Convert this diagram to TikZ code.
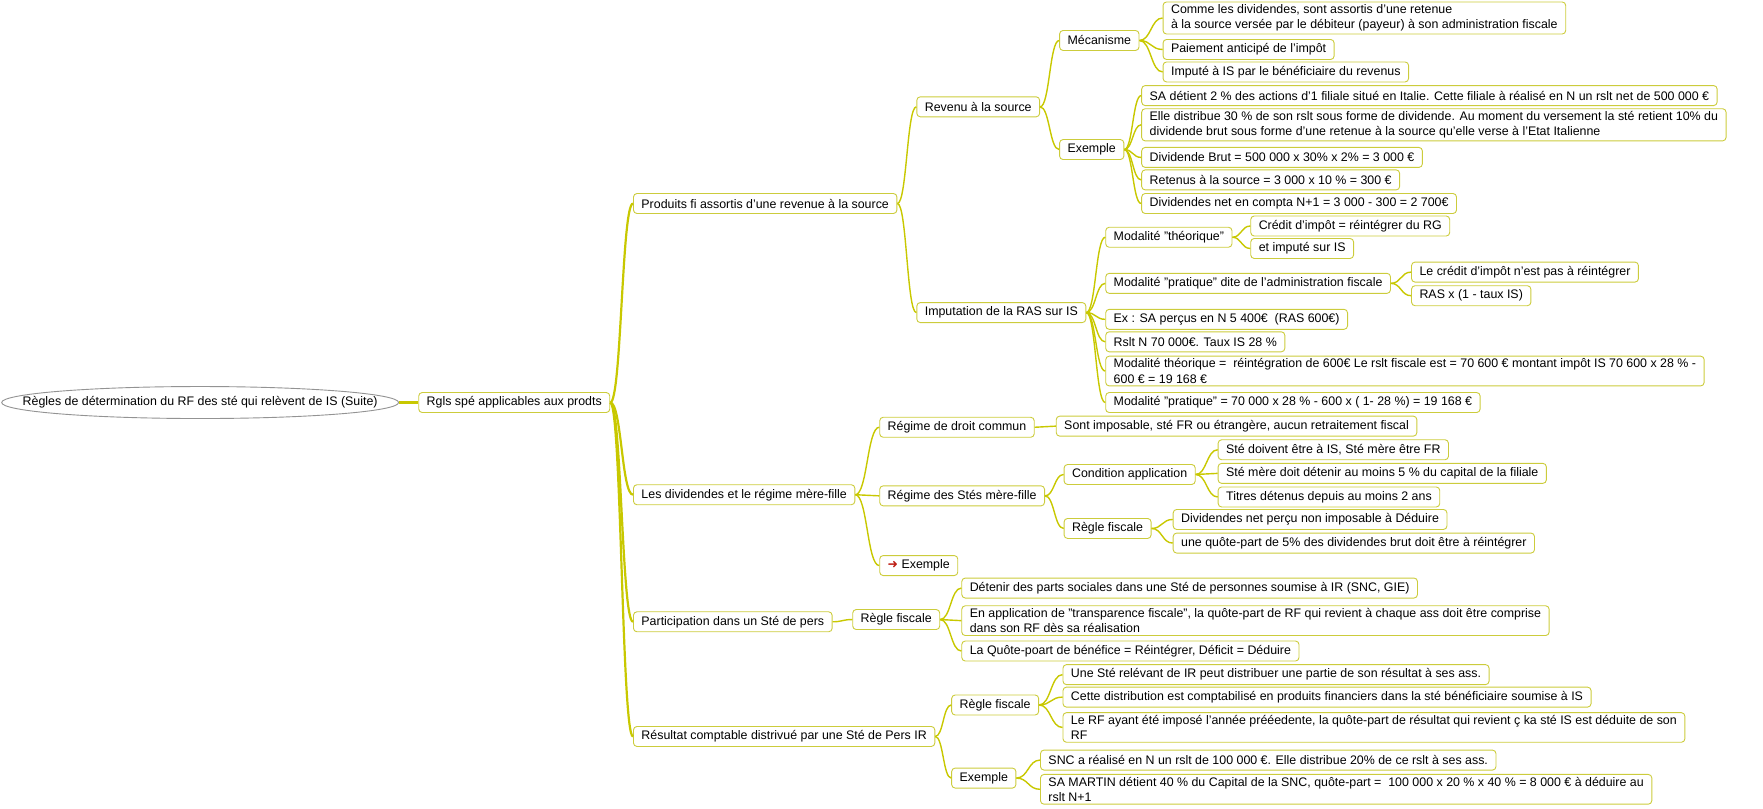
\documentclass[tikz,border=0pt]{standalone}
\usepackage{fontspec}
\setmainfont{Liberation Sans}
\newfontfamily\arrowfont{DejaVu Sans}
\usetikzlibrary{calc,shapes.geometric}
\definecolor{branchcol}{RGB}{200,200,0}
\definecolor{boxcol}{RGB}{204,204,60}
\definecolor{arrowred}{RGB}{190,30,20}

\begin{document}
\begin{tikzpicture}[x=1.1244pt,y=-1.1244pt,
	topic/.style={draw=boxcol,line width=0.9pt,fill=white,rounded corners=3.5pt,anchor=west,
		font=\fontsize{12.4}{15.5}\selectfont,inner xsep=8pt,inner ysep=2.5pt,
		minimum height=20pt,align=left},
	rootshape/.style={draw=gray!85,line width=0.9pt,fill=white,ellipse,inner sep=0pt,
		minimum width=397pt,minimum height=32pt},
	link/.style={draw=branchcol,line width=1.4pt},
	trunk/.style={draw=branchcol,line width=2.2pt}]
	\useasboundingbox (0,0) rectangle (1568,719);

	%root
	\node[rootshape] (root) at (178,358) {};
	\node[font=\fontsize{12.4}{15.5}\selectfont] (roottext) at (root.center) {Règles de détermination du RF des sté qui relèvent de IS (Suite)};
	\node[topic] (rgls) at (372,358) {Rgls spé applicables aux prodts};

	%main branches
	\node[topic] (prod)   at (563,181) {Produits fi assortis d'une revenue à la source};
	\node[topic] (divid)  at (563,440) {Les dividendes et le régime mère-fille};
	\node[topic] (partic) at (563,553) {Participation dans un Sté de pers};
	\node[topic] (resul)  at (563,655) {Résultat comptable distrivué par une Sté de Pers IR};

	%produits fi
	\node[topic] (revenu) at (815,95)  {Revenu à la source};
	\node[topic] (imput)  at (815,278) {Imputation de la RAS sur IS};
	\node[topic] (meca)   at (942,36)  {Mécanisme};
	\node[topic] (exrev)  at (942,133) {Exemple};
	\node[topic] (meca1)  at (1034,16) {Comme les dividendes, sont assortis d'une retenue\\à la source versée par le débiteur (payeur) à son administration fiscale};
	\node[topic] (meca2)  at (1034,44) {Paiement anticipé de l'impôt};
	\node[topic] (meca3)  at (1034,64) {Imputé à IS par le bénéficiaire du revenus};
	\node[topic] (exrev1) at (1015,85)  {SA détient 2 \% des actions d'1 filiale situé en Italie. Cette filiale à réalisé en N un rslt net de 500 000 €};
	\node[topic] (exrev2) at (1015,111) {Elle distribue 30 \% de son rslt sous forme de dividende. Au moment du versement la sté retient 10\% du\\dividende brut sous forme d'une retenue à la source qu'elle verse à l'Etat Italienne};
	\node[topic] (exrev3) at (1015,140) {Dividende Brut = 500 000 x 30\% x 2\% = 3 000 €};
	\node[topic] (exrev4) at (1015,160) {Retenus à la source = 3 000 x 10 \% = 300 €};
	\node[topic] (exrev5) at (1015,181) {Dividendes net en compta N+1 = 3 000 - 300 = 2 700€};
	\node[topic] (mtheo)  at (983,211) {Modalité "théorique"};
	\node[topic] (mprat)  at (983,252) {Modalité "pratique" dite de l'administration fiscale};
	\node[topic] (imp3)   at (983,284) {Ex : SA perçus en N 5 400€ \ (RAS 600€)};
	\node[topic] (imp4)   at (983,304) {Rslt N 70 000€. Taux IS 28 \%};
	\node[topic] (imp5)   at (983,330) {Modalité théorique = \ réintégration de 600€ Le rslt fiscale est = 70 600 € montant impôt IS 70 600 x 28 \% -\\600 € = 19 168 €};
	\node[topic] (imp6)   at (983,358) {Modalité "pratique" = 70 000 x 28 \% - 600 x ( 1- 28 \%) = 19 168 €};
	\node[topic] (mtheo1) at (1112,201) {Crédit d'impôt = réintégrer du RG};
	\node[topic] (mtheo2) at (1112,221) {et imputé sur IS};
	\node[topic] (mprat1) at (1255,242) {Le crédit d'impôt n'est pas à réintégrer};
	\node[topic] (mprat2) at (1255,263) {RAS x (1 - taux IS)};

	%dividendes
	\node[topic] (droit)  at (782,380) {Régime de droit commun};
	\node[topic] (meref)  at (782,441) {Régime des Stés mère-fille};
	\node[topic] (exdiv)  at (782,503) {{\arrowfont\color{arrowred}\bfseries ➜}\ Exemple};
	\node[topic] (droit1) at (939,379) {Sont imposable, sté FR ou étrangère, aucun retraitement fiscal};
	\node[topic] (cond)   at (946,422) {Condition application};
	\node[topic] (regle)  at (946,470) {Règle fiscale};
	\node[topic] (cond1)  at (1083,400) {Sté doivent être à IS, Sté mère être FR};
	\node[topic] (cond2)  at (1083,421) {Sté mère doit détenir au moins 5 \% du capital de la filiale};
	\node[topic] (cond3)  at (1083,442) {Titres détenus depuis au moins 2 ans};
	\node[topic] (regle1) at (1043,462) {Dividendes net perçu non imposable à Déduire};
	\node[topic] (regle2) at (1043,483) {une quôte-part de 5\% des dividendes brut doit être à réintégrer};

	%participation
	\node[topic] (pregle)  at (758,551) {Règle fiscale};
	\node[topic] (pregle1) at (855,523) {Détenir des parts sociales dans une Sté de personnes soumise à IR (SNC, GIE)};
	\node[topic] (pregle2) at (855,552) {En application de "transparence fiscale", la quôte-part de RF qui revient à chaque ass doit être comprise\\dans son RF dès sa réalisation};
	\node[topic] (pregle3) at (855,579) {La Quôte-poart de bénéfice = Réintégrer, Déficit = Déduire};

	%resultat comptable
	\node[topic] (rregle)  at (846,627) {Règle fiscale};
	\node[topic] (rex)     at (846,692) {Exemple};
	\node[topic] (rregle1) at (945,600) {Une Sté relévant de IR peut distribuer une partie de son résultat à ses ass.};
	\node[topic] (rregle2) at (945,620) {Cette distribution est comptabilisé en produits financiers dans la sté bénéficiaire soumise à IS};
	\node[topic] (rregle3) at (945,647) {Le RF ayant été imposé l'année prééedente, la quôte-part de résultat qui revient ç ka sté IS est déduite de son\\RF};
	\node[topic] (rex1)    at (925,676) {SNC a réalisé en N un rslt de 100 000 €. Elle distribue 20\% de ce rslt à ses ass.};
	\node[topic] (rex2)    at (925,702) {SA MARTIN détient 40 \% du Capital de la SNC, quôte-part = \ 100 000 x 20 \% x 40 \% = 8 000 € à déduire au\\rslt N+1};

	%connectors
	\foreach \a/\b in {root/rgls,rgls/prod,rgls/divid,rgls/partic,rgls/resul}
		\draw[trunk] let \p1=(\a.east), \p2=(\b.west) in
			(\p1) .. controls (\x1/2+\x2/2,\y1) and (\x1/2+\x2/2,\y2) .. (\p2);
	\foreach \a/\b in {prod/revenu,prod/imput,revenu/meca,revenu/exrev,
			meca/meca1,meca/meca2,meca/meca3,exrev/exrev1,exrev/exrev2,exrev/exrev3,exrev/exrev4,exrev/exrev5,
			imput/mtheo,imput/mprat,imput/imp3,imput/imp4,imput/imp5,imput/imp6,
			mtheo/mtheo1,mtheo/mtheo2,mprat/mprat1,mprat/mprat2,
			divid/droit,divid/meref,divid/exdiv,droit/droit1,meref/cond,meref/regle,
			cond/cond1,cond/cond2,cond/cond3,regle/regle1,regle/regle2,
			partic/pregle,pregle/pregle1,pregle/pregle2,pregle/pregle3,
			resul/rregle,resul/rex,rregle/rregle1,rregle/rregle2,rregle/rregle3,rex/rex1,rex/rex2}
		\draw[link] let \p1=(\a.east), \p2=(\b.west) in
			(\p1) .. controls (\x1/2+\x2/2,\y1) and (\x1/2+\x2/2,\y2) .. (\p2);
\end{tikzpicture}
\end{document}
